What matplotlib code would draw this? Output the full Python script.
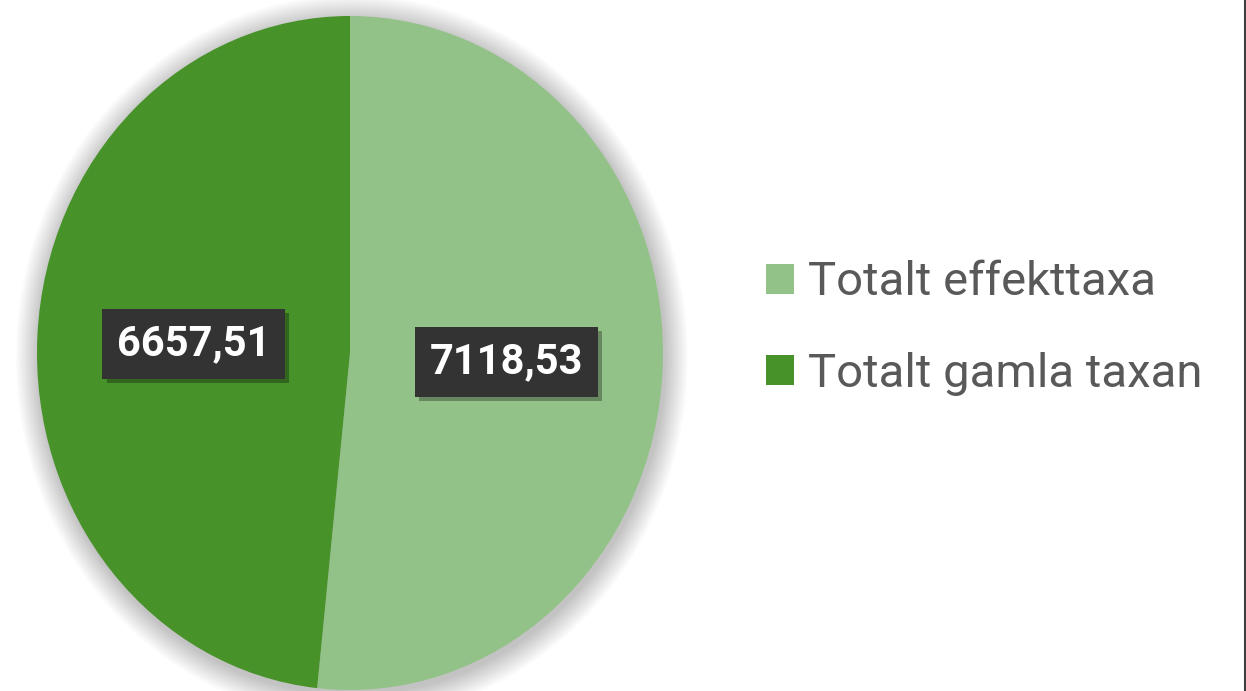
import matplotlib
matplotlib.use("Agg")
import matplotlib.pyplot as plt
from matplotlib.patches import Ellipse
import matplotlib.patheffects as pe

categories = ["Totalt effekttaxa", "Totalt gamla taxan"]
values = [7118.53, 6657.51]
colors = ["#93C289", "#48922A"]

font = ["Roboto", "DejaVu Sans"]

fig = plt.figure(figsize=(12.46, 6.91), dpi=100)
fig.patch.set_facecolor("white")
W, H = 1246, 691
ax = fig.add_axes([37 / W, (691 - 690) / H, 626 / W, 674 / H])

# soft shadow behind the pie
for k in range(30):
    r = 1.0 + 0.0025 * (k + 1)
    ax.add_patch(Ellipse((0.006, -0.012), 2 * r, 2 * r, facecolor="black",
                         alpha=0.007, edgecolor="none", zorder=0,
                         clip_on=False))


def fmt(pct):
    v = pct / 100.0 * sum(values)
    return f"{v:.2f}".replace(".", ",")


wedges, texts, autotexts = ax.pie(
    values, colors=colors, startangle=90, counterclock=False,
    autopct=fmt, pctdistance=0.5, radius=1.0,
    wedgeprops=dict(linewidth=0, zorder=2))
ax.set_aspect("auto")
ax.set_xlim(-1, 1)
ax.set_ylim(-1, 1)
ax.axis("off")
for w in wedges:
    w.set_zorder(2)
    w.set_clip_on(False)

for t in autotexts:
    t.set_fontfamily(font)
    t.set_fontweight("bold")
    t.set_fontsize(30)
    t.set_color("white")
    t.set_zorder(5)
    t.set_bbox(dict(boxstyle="square,pad=0.35", facecolor="#333333",
                    edgecolor="none"))
    t.get_bbox_patch().set_path_effects([
        pe.SimplePatchShadow(offset=(3, -3), shadow_rgbFace="black", alpha=0.3),
        pe.Normal()])

leg = fig.legend(wedges, categories, loc="center left",
                 bbox_to_anchor=(723 / W, 1 - 328 / H), frameon=False,
                 prop=dict(family=font, size=34),
                 labelcolor="#595959", handlelength=0.6, handleheight=0.6,
                 handletextpad=0.3, labelspacing=1.0)

# thin frame line at right edge
fig.add_artist(plt.Line2D([1244.5 / W, 1244.5 / W], [0, 1], color="#404040",
                          linewidth=1.5, transform=fig.transFigure))

fig.savefig("out.png", dpi=100, facecolor="white")
